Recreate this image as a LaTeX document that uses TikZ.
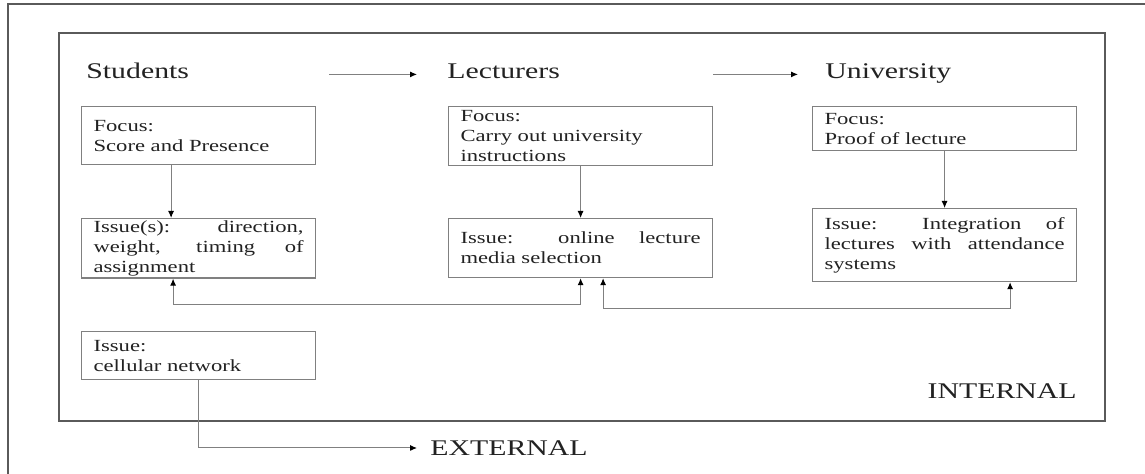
\documentclass[tikz,border=0pt]{standalone}
\usepackage{fontspec}
\setmainfont{Liberation Serif}[FakeStretch=1.33]
\usetikzlibrary{arrows.meta}

\definecolor{boxline}{HTML}{808080}
\definecolor{frameline}{HTML}{5A5A5A}
\definecolor{ink}{HTML}{222222}

\begin{document}
\begin{tikzpicture}[x=0.5pt,y=-0.5pt,>={Latex[length=3.5pt,width=3pt,color=black]},
    box/.style={draw=boxline, line width=0.6pt, inner xsep=6pt, inner ysep=1pt, anchor=north west,
        text=ink, font=\fontsize{8.5}{10}\selectfont},
    head/.style={text=ink, font=\fontsize{11.2}{13}\selectfont, inner sep=0pt},
    link/.style={draw=boxline, line width=0.5pt}]
        \def\narrow{105pt}
        \def\wide{120pt}

        \useasboundingbox (0,0) rectangle (1145,474);

        % frames
        \draw[frameline, line width=1pt] (8,474) -- (8,4) -- (1145,4);
        \draw[frameline, line width=0.9pt] (59,33) rectangle (1105,421);

        % headings
        \node[head, anchor=base west] (students) at (86,79) {Students};
        \node[head, anchor=base west] (lecturers) at (447,79) {Lecturers};
        \node[head, anchor=base west] (university) at (825,79) {University};
        \node[head, anchor=east] (internal) at (1077,391) {INTERNAL};
        \node[head, anchor=west] (external) at (430,448) {EXTERNAL};

        \draw[link, ->, shorten <=70pt, shorten >=15pt] (students.mid east) -- (lecturers.mid west);
        \draw[link, ->, shorten <=76.5pt, shorten >=13.5pt] (lecturers.mid east) -- (university.mid west);

        % students
        \node[box, text width=\narrow, minimum height=29pt, align=left] (sFocus) at (81,106) {Focus:\\Score and Presence};
        \node[box, text width=\narrow, minimum height=29pt, align=justify] (sIssue) at (81,218)
            {Issue(s): direction,\linebreak weight, timing of\linebreak assignment};
        \node[box, text width=\narrow, minimum height=24pt, align=left] (sNet) at (81,331) {Issue:\\cellular network};

        % lecturers
        \node[box, text width=\wide, minimum height=29.5pt, align=left] (lFocus) at (448,106)
            {Focus:\\Carry out university\\instructions};
        \node[box, text width=\wide, minimum height=29.5pt, align=justify] (lIssue) at (448,218)
            {Issue: online lecture\linebreak media selection};

        % university
        \node[box, text width=\wide, minimum height=22pt, align=left] (uFocus) at (812,106) {Focus:\\Proof of lecture};
        \node[box, text width=\wide, minimum height=36.5pt, align=justify] (uIssue) at (812,208)
            {Issue: Integration of\linebreak lectures with attendance\linebreak systems};

        \draw[link, ->] ([xshift=-13.75pt]sFocus.south) -- ([xshift=-13.75pt]sIssue.north);
        \draw[link, ->] (lFocus) -- (lIssue);
        \draw[link, ->] (uFocus) -- (uIssue);

        \draw[link, <->] ([xshift=-12.75pt]sIssue.south) -- ++(0,26) -| (lIssue.south);
        \draw[link, <->] ([xshift=11.25pt]lIssue.south) -- ++(0,30) -| ([xshift=32.75pt]uIssue.south);
        \draw[link, ->] (sNet.south) |- ([xshift=-6.5pt]external.west);
    \end{tikzpicture}
\end{document}
